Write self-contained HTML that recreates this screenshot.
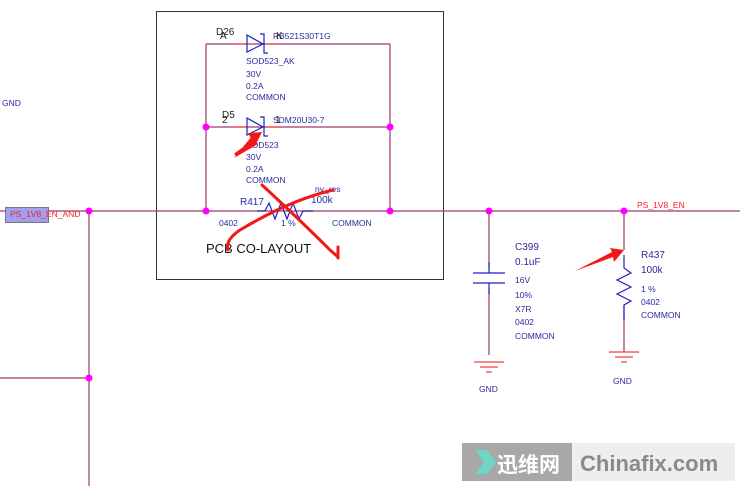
<!DOCTYPE html>
<html><head><meta charset="utf-8"><style>
html,body{margin:0;padding:0;background:#fff;width:740px;height:486px;overflow:hidden}
svg{display:block}
text{font-family:"Liberation Sans","Noto Sans CJK SC",sans-serif}
</style></head><body>
<svg width="740" height="486" viewBox="0 0 740 486" xmlns="http://www.w3.org/2000/svg">
<rect x="156.5" y="11.5" width="287" height="268" fill="none" stroke="#333" stroke-width="1"/>
<g stroke="#9c3a6c" stroke-width="1.2" fill="none">
<line x1="0" y1="211" x2="740" y2="211"/>
<line x1="89" y1="211" x2="89" y2="486"/>
<line x1="0" y1="378" x2="89" y2="378"/>
<line x1="206" y1="44" x2="206" y2="211"/>
<line x1="390" y1="44" x2="390" y2="211"/>
<line x1="206" y1="44" x2="390" y2="44"/>
<line x1="206" y1="127" x2="390" y2="127"/>
<line x1="489" y1="211" x2="489" y2="268"/>
<line x1="489" y1="288" x2="489" y2="355"/>
<line x1="624" y1="211" x2="624" y2="250"/>
<line x1="624" y1="305" x2="624" y2="352"/>
</g>
<g stroke="#f04040" stroke-width="1.2">
<line x1="233" y1="44" x2="247" y2="44"/><line x1="265" y1="44" x2="279" y2="44"/>
<line x1="233" y1="127" x2="247" y2="127"/><line x1="265" y1="127" x2="279" y2="127"/>
<line x1="474" y1="362" x2="504" y2="362"/><line x1="480" y1="367" x2="498" y2="367"/><line x1="486" y1="372" x2="492" y2="372"/>
<line x1="609" y1="352" x2="639" y2="352"/><line x1="615" y1="357" x2="633" y2="357"/><line x1="621" y1="362" x2="627" y2="362"/>
</g>
<g stroke="#2020c0" stroke-width="1.2" fill="none">
<path d="M247 35 L263 44 L247 52 Z"/><path d="M260 34 H264 V53 H268"/>
<path d="M247 118 L263 127 L247 135 Z"/><path d="M260 117 H264 V136 H268"/>
<path d="M257 211 H265 L269 203 L275 219 L281 203 L287 219 L293 203 L299 219 L303 211 H313"/>
<line x1="473" y1="273" x2="505" y2="273"/><line x1="473" y1="283" x2="505" y2="283"/>
<line x1="489" y1="262" x2="489" y2="273"/><line x1="489" y1="283" x2="489" y2="294"/>
<path d="M624 255 V268 L631 273 L617 280 L631 287 L617 294 L631 301 L624 305 V320"/>
</g>
<g fill="#ff00ff">
<circle cx="89" cy="211" r="3.5"/><circle cx="206" cy="211" r="3.5"/><circle cx="390" cy="211" r="3.5"/>
<circle cx="206" cy="127" r="3.5"/><circle cx="390" cy="127" r="3.5"/>
<circle cx="489" cy="211" r="3.5"/><circle cx="624" cy="211" r="3.5"/><circle cx="89" cy="378" r="3.5"/>
</g>
<rect x="5.5" y="207.5" width="43" height="15" fill="#a0a0f0" stroke="#777"/>
<g font-size="8.5" fill="#ff2020">
<text x="10" y="217">PS_1V8_EN_AND</text>
<text x="637" y="208">PS_1V8_EN</text>
</g>
<g font-size="8.5" fill="#2a2aa0">
<text x="2" y="106">GND</text>
<text x="273" y="39">RB521S30T1G</text>
<text x="246" y="64">SOD523_AK</text><text x="246" y="77">30V</text><text x="246" y="89">0.2A</text><text x="246" y="100">COMMON</text>
<text x="273" y="123">SDM20U30-7</text>
<text x="246" y="148">SOD523</text><text x="246" y="160">30V</text><text x="246" y="172">0.2A</text><text x="246" y="183">COMMON</text>
<text x="315" y="192">nv_res</text>
<text x="219" y="226">0402</text><text x="281" y="226">1 %</text><text x="332" y="226">COMMON</text>
<text x="515" y="283">16V</text><text x="515" y="298">10%</text><text x="515" y="312">X7R</text><text x="515" y="325">0402</text><text x="515" y="339">COMMON</text>
<text x="479" y="392">GND</text><text x="613" y="384">GND</text>
<text x="641" y="292">1 %</text><text x="641" y="305">0402</text><text x="641" y="318">COMMON</text>
</g>
<g font-size="10" fill="#2a2aa0">
<text x="240" y="205">R417</text><text x="311" y="203">100k</text>
<text x="515" y="250">C399</text><text x="515" y="265">0.1uF</text>
<text x="641" y="258">R437</text><text x="641" y="273">100k</text>
</g>
<g font-size="10" fill="#222">
<text x="216" y="35">D26</text><text x="220" y="39">A</text><text x="276" y="39">K</text>
<text x="222" y="118">D5</text><text x="222" y="123">2</text><text x="275" y="123">1</text>
</g>
<text x="206" y="253" font-size="13" fill="#111">PCB CO-LAYOUT</text>
<g stroke="#f01818" stroke-width="3" fill="none" stroke-linecap="round">
<path d="M262 185 Q300 220 330 250 L338 257"/><path d="M338 247 L338 258"/>
<path d="M333 190 Q290 200 240 230 Q225 240 228 250"/>
<path d="M236 154 L256 140"/>
</g>
<path d="M234 158 L252 136 L258 144 Z M248 133 L262 132 L255 146 Z" fill="#f01818"/>
<path d="M575 271 L612 252 L610 248 L624 250 L614 262 L613 257 Z" fill="#f01818"/>
<rect x="462" y="443" width="110" height="38" fill="#a8a8a8"/>
<rect x="572" y="443" width="163" height="38" fill="#eeeeee"/>
<path d="M475 450 L487 450 L496 462 L487 474 L475 474 L484 462 Z" fill="#6fd6c8"/>
<text x="497" y="472" font-size="21" font-weight="bold" fill="#fff">迅维网</text>
<text x="580" y="471" font-size="22" font-weight="bold" fill="#8a8a8a">Chinafix.com</text>
</svg>
</body></html>
